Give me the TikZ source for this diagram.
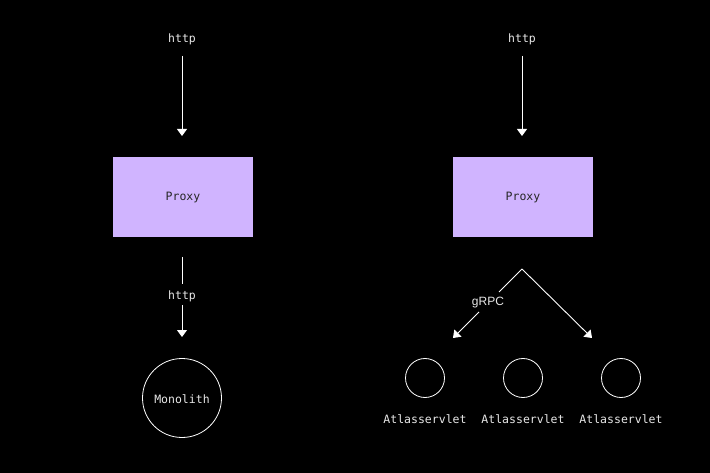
\documentclass[tikz,border=0pt]{standalone}
\usepackage{fontspec}
\setmonofont{DejaVu Sans Mono}
\setsansfont{Liberation Sans}
\usetikzlibrary{arrows.meta}
\definecolor{lav}{HTML}{D0B4FF}
\definecolor{txt}{HTML}{E8E8E8}
\begin{document}
\begin{tikzpicture}[x=1pt,y=-1pt,
  lbl/.style={font=\ttfamily\fontsize{11.5}{13}\selectfont, text=txt, inner sep=0pt},
  proxybox/.style={fill=lav, draw=none, minimum width=140pt, minimum height=80pt},
  ptxt/.style={font=\ttfamily\fontsize{11.5}{13}\selectfont, text=black!85, inner sep=0pt},
  ring/.style={circle, draw=white, line width=0.8pt, inner sep=0pt},
  conn/.style={draw=white, line width=0.9pt},
  arr/.style={conn, -{Triangle[width=10pt,length=7pt]}}]
\fill[black] (0,0) rectangle (710,473);
\useasboundingbox (0,0) rectangle (710,473);
% left
\node[lbl] (h1) at (182,39) {http};
\coordinate (a1s) at (182,56);
\coordinate (a1e) at (182,136);
\draw[arr] (a1s) -- (a1e);
\node[proxybox] (p1) at (183,197) {};
\node[ptxt] (pt1) at (183,198) {Proxy};
\node[lbl] (h2) at (182,296) {http};
\coordinate (b1) at (182,257);
\coordinate (b2) at (182,337);
\coordinate (b1e) at (182,284);
\coordinate (b2s) at (182,305);
\draw[conn] (b1) -- (b1e);
\draw[arr] (b2s) -- (b2);
\node[ring, minimum size=79pt] (mono) at (182,398) {};
\node[lbl] (mt) at (182,399) {Monolith};
% right
\node[lbl] (h3) at (522,39) {http};
\coordinate (c1) at (522,56);
\coordinate (c2) at (522,136);
\draw[arr] (c1) -- (c2);
\node[proxybox] (p2) at (523,197) {};
\node[ptxt] (pt2) at (523,198) {Proxy};
\coordinate (apex) at (522,269);
\coordinate (gl1) at (499,292);
\coordinate (gl2) at (479,312);
\coordinate (lt) at (453,338);
\coordinate (rt) at (592,338);
\node[font=\sffamily\fontsize{12}{14}\selectfont, text=txt, inner sep=0pt] (g) at (488,303) {gRPC};
\draw[conn] (apex) -- (gl1);
\draw[arr] (gl2) -- (lt);
\draw[arr] (apex) -- (rt);
\node[ring, minimum size=39pt] (s1) at (425,378) {};
\node[ring, minimum size=39pt] (s2) at (523,378) {};
\node[ring, minimum size=39pt] (s3) at (621,378) {};
\node[lbl] (t1) at (425,419) {Atlasservlet};
\node[lbl] (t2) at (523,419) {Atlasservlet};
\node[lbl] (t3) at (621,419) {Atlasservlet};
\end{tikzpicture}
\end{document}
